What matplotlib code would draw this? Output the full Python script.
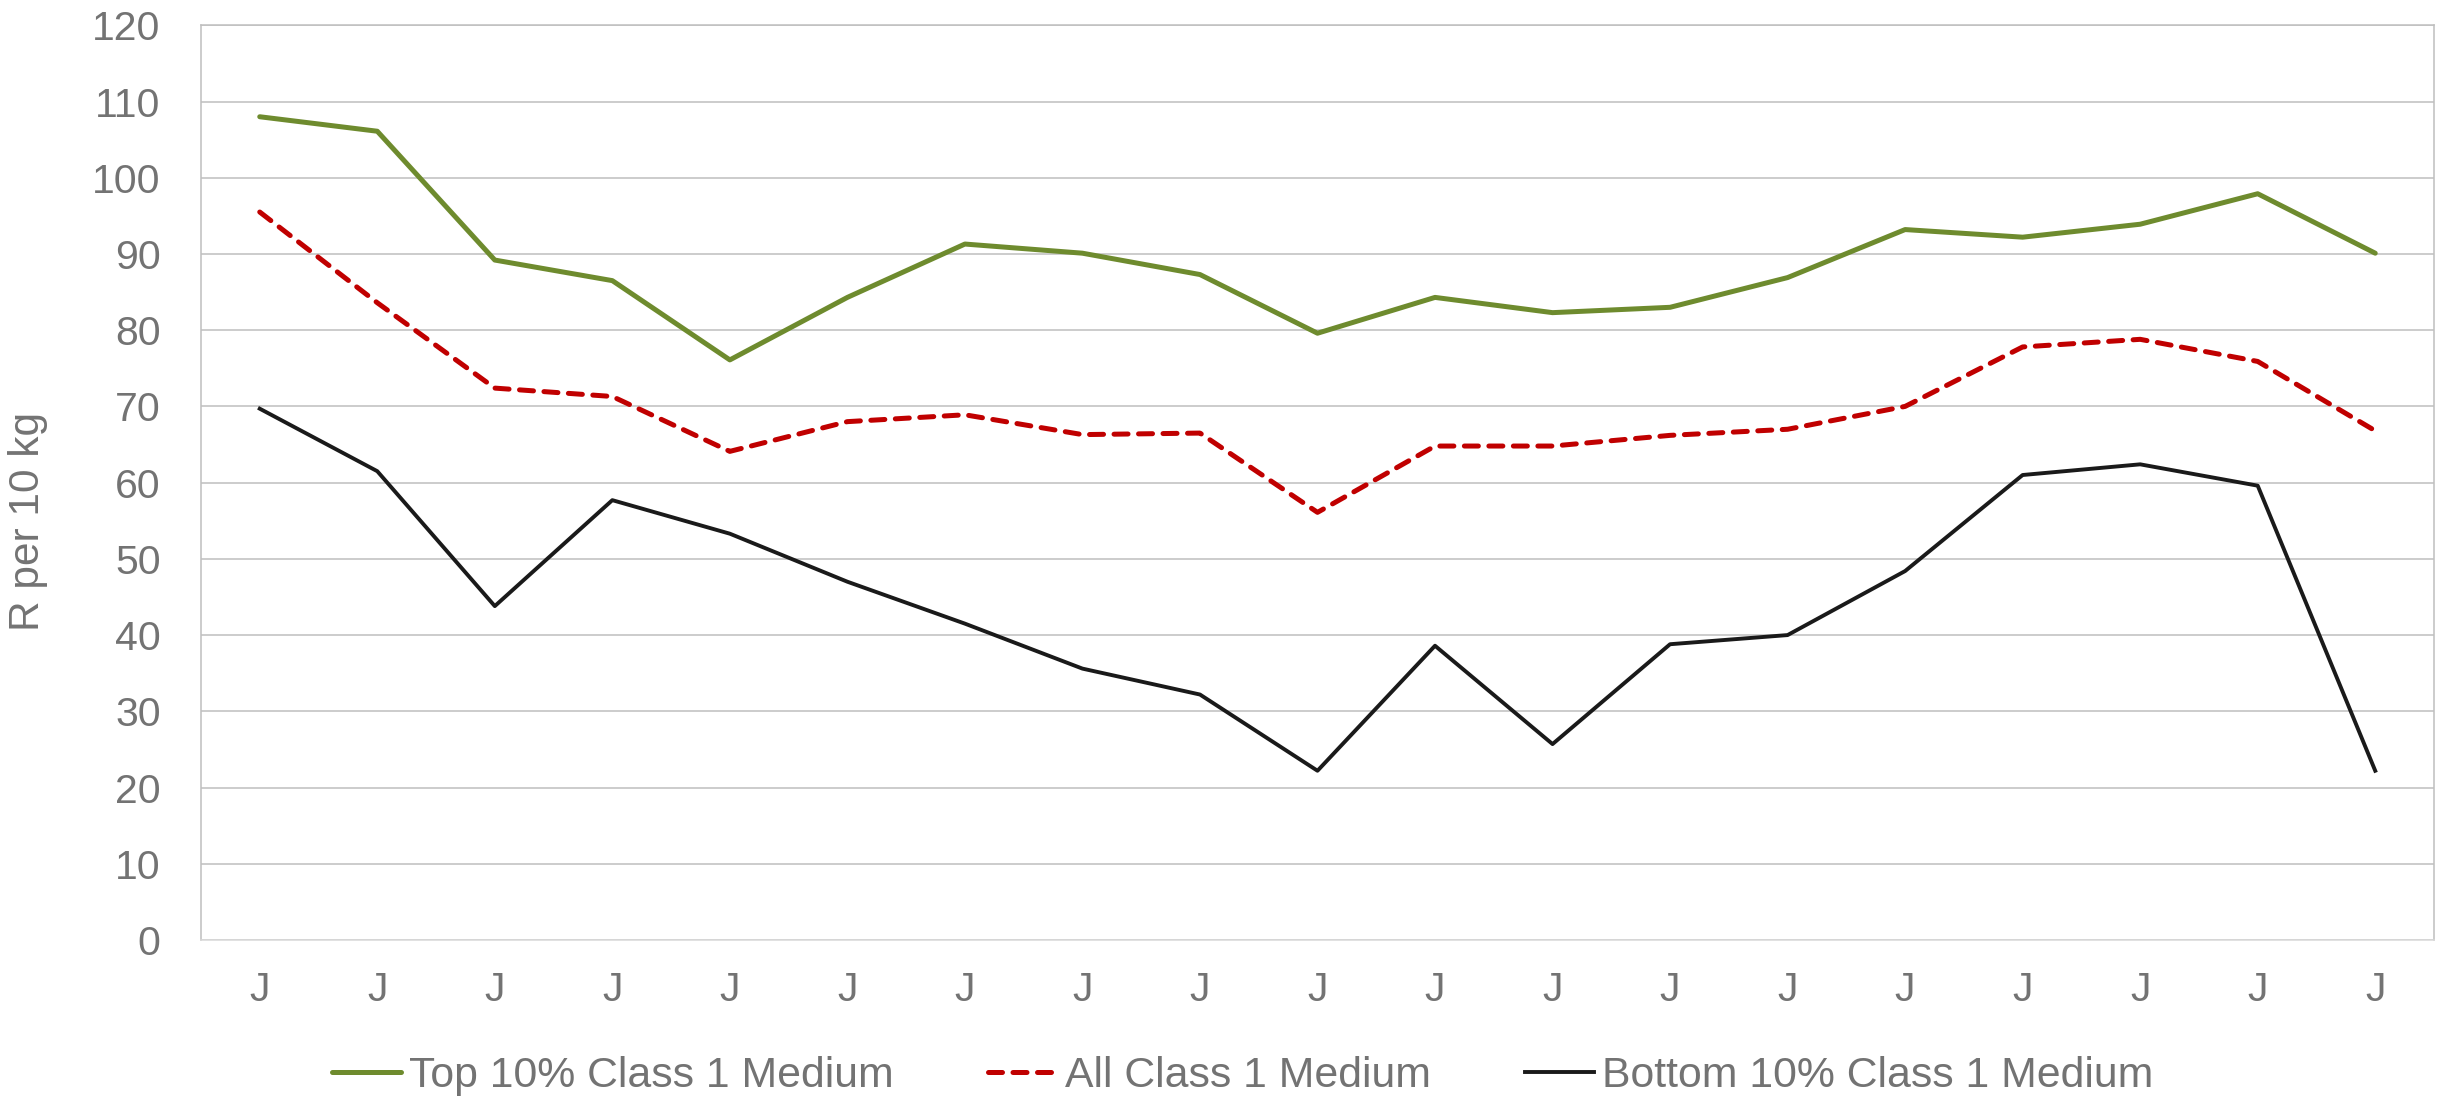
import numpy as np
import matplotlib
matplotlib.use('Agg')
import matplotlib.pyplot as plt

# data
months = ['J'] * 19
top10 = [108.0, 106.1, 89.2, 86.5, 76.1, 84.3, 91.3, 90.1, 87.3, 79.6,
         84.3, 82.3, 83.0, 86.9, 93.2, 92.2, 93.9, 97.9, 90.1]
all_c1 = [95.5, 83.6, 72.4, 71.3, 64.1, 68.0, 68.9, 66.3, 66.5, 56.1,
          64.8, 64.8, 66.2, 67.0, 70.0, 77.8, 78.8, 75.9, 66.8]
bottom10 = [69.7, 61.5, 43.8, 57.7, 53.3, 47.0, 41.5, 35.6, 32.2, 22.2,
            38.6, 25.7, 38.8, 40.0, 48.4, 61.0, 62.4, 59.6, 22.2]
series_names = ['Top 10% Class 1 Medium', 'All Class 1 Medium', 'Bottom 10% Class 1 Medium']

green = '#6E8B2E'
red = '#C00000'
black = '#1A1A1A'
txt = '#737373'

plt.rcParams['font.family'] = ['Liberation Sans', 'DejaVu Sans']

fig = plt.figure(figsize=(24.45, 10.99), dpi=100)
ax = fig.add_axes([0.0822, 0.1447, 0.9133, 0.8323])

x = np.arange(len(months))
ax.plot(x, top10, color=green, lw=3.6, solid_joinstyle='round', solid_capstyle='round',
        label=series_names[0], zorder=3)
ax.plot(x, all_c1, color=red, lw=3.6, dashes=(2.8, 2.1), dash_capstyle='round',
        dash_joinstyle='round', label=series_names[1], zorder=3)
ax.plot(x, bottom10, color=black, lw=2.8, solid_joinstyle='round',
        label=series_names[2], zorder=3)

ax.set_xlim(-0.5, len(months) - 0.5)
ax.set_ylim(0, 120)
ax.set_yticks(np.arange(0, 121, 10))
ax.set_xticks(x)
ax.set_xticklabels(months)
ax.yaxis.grid(True, color='#BFBFBF', lw=1.1)
ax.set_axisbelow(True)
ax.tick_params(axis='both', length=0, labelsize=29.5, colors=txt)
ax.tick_params(axis='y', pad=29)
ax.tick_params(axis='x', pad=22)
for s in ['left', 'right', 'top']:
    ax.spines[s].set_color('#BFBFBF')
    ax.spines[s].set_linewidth(1.1)
ax.spines['bottom'].set_color('#D9D9D9')
ax.spines['bottom'].set_linewidth(1.1)

fig.text(28 / 2445, 1 - 521 / 1099, 'R per 10 kg', rotation=90, ha='center', va='center',
         fontsize=30.5, color=txt)

leg = fig.legend(loc='center', bbox_to_anchor=(1243 / 2445, 1 - 1076 / 1099),
                 ncol=3, frameon=False, fontsize=30.8, handlelength=1.6, handletextpad=0.2,
                 columnspacing=2.2, borderaxespad=0)
for t in leg.get_texts():
    t.set_color(txt)

fig.savefig('out.png', dpi=100, facecolor='white')
